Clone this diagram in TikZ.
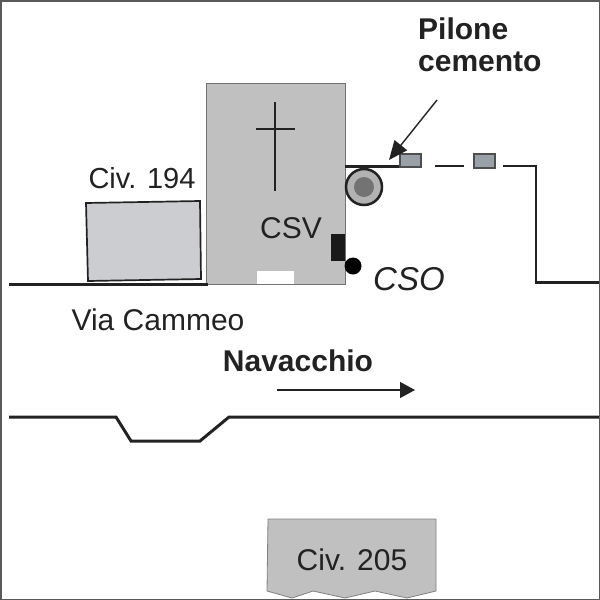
\documentclass[tikz,border=0pt]{standalone}
\usepackage{fontspec}
\setmainfont{Liberation Sans}
\usepackage{tikz}
\usetikzlibrary{arrows.meta}

\definecolor{wallgray}{HTML}{C0C0C0}
\definecolor{housegray}{HTML}{CCCDD0}
\definecolor{pylongray}{HTML}{9AA0A8}
\definecolor{linedark}{HTML}{222222}

\begin{document}
\begin{tikzpicture}[
        x=1pt,
        y=-1pt,
        >=Stealth,
        road/.style={draw=linedark, line width=3pt},
        fence/.style={draw=linedark, line width=1.5pt},
        pylon/.style={draw=linedark!80, line width=1.5pt, fill=pylongray},
        label/.style={inner sep=0pt, text=linedark, font=\fontsize{30}{32}\selectfont}
      ]
      \useasboundingbox (0,0) rectangle (600,600);

      % Edifici
      \fill[wallgray, draw=black!55, line width=0.8pt] (206,83) rectangle (345,284);
      \fill[white] (257,271) rectangle (294,284);
      \fill[black!90] (331,234) rectangle (345,261);
      \draw[linedark, line width=2.4pt] (275,102) -- (275,191);
      \draw[linedark, line width=2.4pt] (256,129) -- (295,129);
      \draw[draw=linedark, line width=1.7pt, fill=housegray]
      (86,203) -- (200,201) -- (201,279) -- (88,281) -- cycle;
      \fill[wallgray, draw=black!50, line width=0.8pt]
      (268,519) -- (436,519) -- (436,591) -- (407,598) -- (375,591)
      -- (345,598) -- (313,591) -- (292,598) -- (267,591) -- cycle;

      % Strade
      \draw[road] (9,284) -- (208,284);
      \draw[road] (535,282) -- (600,282);
      \draw[road] (9,417) -- (116,417) -- (131,441) -- (200,441) -- (229,417) -- (600,417);

      % Recinzione
      \draw[road] (345,166) -- (400,166);
      \draw[fence] (435,166) -- (464,166);
      \draw[fence] (503,166) -- (536,166) -- (536,282);
      \draw[pylon] (400,154) rectangle (421,167);
      \draw[pylon] (474,154) rectangle (495,168);
      \coordinate (pylonTip) at (389,160);

      % Pozzetti
      \draw[draw=linedark, line width=2.5pt, fill=black!30] (364,187) circle (18);
      \fill[black!55] (364,187) circle (10);
      \fill[black] (353,266) circle (8.5);

      % Testi
      \node[label, font=\fontsize{30}{32}\selectfont\bfseries, anchor=west] (pilone) at (418,29) {Pilone};
      \node[label, font=\fontsize{30}{32}\selectfont\bfseries, anchor=west] (cemento) at (418,62) {cemento};
      \node[label, font=\fontsize{29}{32}\selectfont] (civ194) at (142,178) {Civ. 194};
      \node[label] (csv) at (291,228) {CSV};
      \node[label, font=\fontsize{33}{36}\selectfont\itshape] (cso) at (409,279) {CSO};
      \node[label] (via) at (158,320) {Via Cammeo};
      \node[label, font=\fontsize{30}{32}\selectfont\bfseries] (navacchio) at (298,361) {Navacchio};
      \node[label] (civ205) at (352,560) {Civ. 205};

      % Frecce
      \coordinate (dirStart) at (277,390);
      \coordinate (dirEnd) at (415,390);
      \draw[->, linedark, line width=1.4pt, arrows={-Stealth[length=15pt, width=16pt, inset=0pt]}] (dirStart) -- (dirEnd);
      \coordinate (pilStart) at (437,100);
      \draw[->, linedark, line width=1.4pt, arrows={-Stealth[length=19pt, width=16pt, inset=0pt]}] (pilStart) -- (pylonTip);

      % Cornice
      \draw[black!65, line width=3pt] (0,0) rectangle (600,600);
    \end{tikzpicture}
\end{document}
